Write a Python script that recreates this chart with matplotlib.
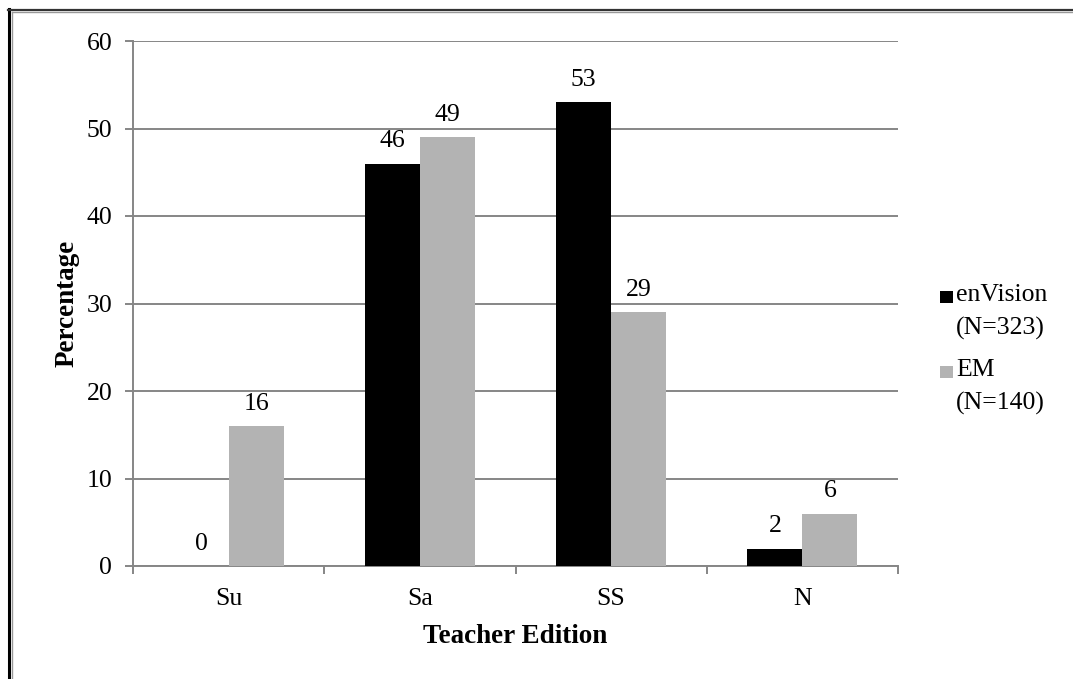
import matplotlib
matplotlib.use("Agg")
import matplotlib.pyplot as plt
import numpy as np
from matplotlib.lines import Line2D
from matplotlib.patches import Rectangle

# Survey results per teacher-edition category
categories = ["Su", "Sa", "SS", "N"]
envision = [0, 46, 53, 2]
em = [16, 49, 29, 6]
series_labels = ["enVision\n(N=323)", "EM\n(N=140)"]
yticks = [0, 10, 20, 30, 40, 50, 60]

plt.rcParams["font.family"] = ["Liberation Serif", "DejaVu Serif"]

W, H = 1073, 679
fig = plt.figure(figsize=(W / 100, H / 100), dpi=100)
fig.patch.set_facecolor("white")

ax = fig.add_axes([133 / W, 1 - 566 / H, (898 - 133) / W, (566 - 41) / H])

black = "#000000"
grey = "#B3B3B3"
axis_grey = "#868686"
fs = 18.5

x = np.arange(len(categories))
bw = 0.288
b1 = ax.bar(x - bw / 2, envision, bw, color=black, zorder=3)
b2 = ax.bar(x + bw / 2, em, bw, color=grey, zorder=3)

for bars, vals in ((b1, envision), (b2, em)):
    for rect, v in zip(bars, vals):
        ax.annotate(f"{v}", (rect.get_x() + rect.get_width() / 2, v),
                    xytext=(0, 8), textcoords="offset points",
                    ha="center", va="bottom", fontsize=fs, color="black")

ax.set_xlim(-0.5, len(categories) - 0.5)
ax.set_ylim(0, 60)
ax.set_yticks(yticks)
ax.yaxis.grid(True, color=axis_grey, linewidth=1.4, zorder=0)
ax.set_axisbelow(True)

ax.set_xticks(x)
ax.set_xticklabels(categories)
ax.set_xticks(np.arange(-0.5, len(categories)), minor=True)
ax.tick_params(axis="x", which="major", length=0, pad=16, labelsize=fs)
ax.tick_params(axis="x", which="minor", length=6, width=1.4, color=axis_grey, direction="out")
ax.tick_params(axis="y", length=6, width=1.4, color=axis_grey, pad=9, labelsize=fs)

for s in ("top", "right"):
    ax.spines[s].set_visible(False)
for s in ("left", "bottom"):
    ax.spines[s].set_color(axis_grey)
    ax.spines[s].set_linewidth(1.4)

ax.set_xlabel("Teacher Edition", fontsize=19.5, fontweight="bold", labelpad=10)
ax.set_ylabel("Percentage", fontsize=19.5, fontweight="bold", labelpad=5)

# Legend drawn as swatches with two-line labels
for i, (lab, col) in enumerate(zip(series_labels, (black, grey))):
    yc = 297 + i * 75
    fig.patches.append(Rectangle((940 / W, 1 - (yc + 6) / H), 13 / W, 12 / H,
                                 transform=fig.transFigure, facecolor=col,
                                 edgecolor="none"))
    fig.text(956 / W, 1 - (yc - 13) / H, lab, fontsize=fs, va="top", ha="left",
             linespacing=1.62)

# Page frame lines
fig.add_artist(Line2D([8.5 / W, 8.5 / W], [0, 1 - 9 / H], transform=fig.transFigure,
                      color="black", linewidth=2.2))
fig.add_artist(Line2D([12.3 / W, 12.3 / W], [0, 1 - 12 / H], transform=fig.transFigure,
                      color="#999999", linewidth=1.0))
fig.add_artist(Line2D([7.5 / W, 1], [1 - 9.8 / H, 1 - 9.8 / H], transform=fig.transFigure,
                      color="#333333", linewidth=1.6))
fig.add_artist(Line2D([12.3 / W, 1], [1 - 12.3 / H, 1 - 12.3 / H], transform=fig.transFigure,
                      color="#999999", linewidth=1.0))

fig.savefig("out.png", dpi=100)
